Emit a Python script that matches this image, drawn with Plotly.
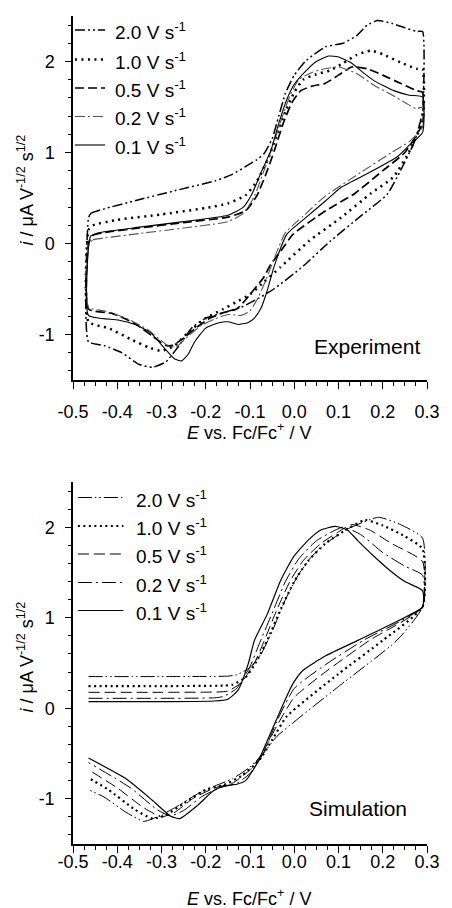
import plotly.graph_objects as go

# ---------------- data (E / V vs Fc/Fc+, i / uA V^-1/2 s^1/2) ----------------
rates = ["2.0", "1.0", "0.5", "0.2", "0.1"]

# Experiment
exp_E_20 = [-0.465,-0.46,-0.43,-0.36,-0.27,-0.178,-0.14,-0.112,-0.085,-0.068,-0.05,-0.035,-0.02,0.0,0.027,0.07,0.11,0.14,0.165,0.188,0.22,0.25,0.277,0.29,
            0.29,0.28,0.27,0.24,0.21,0.15,0.08,0.02,-0.046,-0.08,-0.12,-0.16,-0.2,-0.23,-0.26,-0.29,-0.32,-0.35,-0.39,-0.43,-0.465,-0.465]
exp_i_20 = [0.28,0.33,0.38,0.47,0.58,0.69,0.76,0.84,0.92,0.99,1.15,1.4,1.65,1.85,2.01,2.16,2.2,2.28,2.4,2.45,2.42,2.37,2.33,2.33,
            1.45,1.25,1.10,0.80,0.54,0.30,0.02,-0.25,-0.50,-0.60,-0.70,-0.76,-0.82,-0.92,-1.12,-1.30,-1.36,-1.33,-1.20,-1.12,-1.08,0.28]

exp_E_10 = [-0.465,-0.455,-0.4,-0.3,-0.2,-0.15,-0.11,-0.085,-0.06,-0.04,-0.02,0.0,0.02,0.05,0.08,0.11,0.14,0.173,0.2,0.24,0.276,0.29,
            0.29,0.261,0.224,0.173,0.107,0.034,-0.031,-0.068,-0.1,-0.13,-0.16,-0.2,-0.24,-0.27,-0.3,-0.33,-0.37,-0.42,-0.465,-0.465]
exp_i_10 = [0.15,0.2,0.26,0.32,0.39,0.44,0.53,0.68,0.92,1.18,1.45,1.66,1.8,1.86,1.9,1.98,2.07,2.12,2.08,1.99,1.92,1.92,
            1.35,1.02,0.73,0.55,0.29,0.03,-0.26,-0.42,-0.56,-0.64,-0.72,-0.82,-0.98,-1.12,-1.18,-1.14,-1.05,-0.93,-0.86,0.15]

exp_E_05 = [-0.465,-0.455,-0.43,-0.35,-0.25,-0.15,-0.11,-0.085,-0.065,-0.045,-0.025,-0.005,0.015,0.04,0.07,0.1,0.13,0.165,0.2,0.24,0.277,0.29,
            0.29,0.25,0.2,0.137,0.071,-0.003,-0.03,-0.053,-0.07,-0.09,-0.11,-0.13,-0.16,-0.19,-0.22,-0.25,-0.275,-0.29,-0.32,-0.36,-0.41,-0.465,-0.465]
exp_i_05 = [0.0,0.09,0.12,0.17,0.23,0.29,0.36,0.52,0.75,1.02,1.32,1.55,1.68,1.73,1.76,1.85,1.94,1.92,1.85,1.76,1.68,1.66,
            1.32,1.0,0.8,0.55,0.36,0.10,-0.08,-0.23,-0.38,-0.5,-0.62,-0.72,-0.76,-0.82,-0.92,-1.04,-1.12,-1.12,-1.02,-0.88,-0.77,-0.72,0.0]

exp_E_02 = [-0.465,-0.455,-0.43,-0.35,-0.25,-0.15,-0.115,-0.09,-0.07,-0.05,-0.03,-0.01,0.01,0.04,0.07,0.1,0.14,0.18,0.218,0.25,0.276,0.29,
            0.29,0.26,0.22,0.15,0.07,0.02,-0.02,-0.04,-0.06,-0.08,-0.1,-0.12,-0.15,-0.18,-0.21,-0.24,-0.265,-0.28,-0.3,-0.33,-0.38,-0.43,-0.465,-0.465]
exp_i_02 = [-0.02,0.04,0.06,0.11,0.17,0.24,0.33,0.52,0.78,1.05,1.35,1.62,1.80,1.88,1.92,1.94,1.87,1.74,1.64,1.55,1.48,1.5,
            1.28,1.12,1.0,0.78,0.52,0.3,0.12,-0.1,-0.35,-0.58,-0.74,-0.79,-0.78,-0.83,-0.9,-1.02,-1.13,-1.14,-1.07,-0.95,-0.82,-0.74,-0.7,-0.02]

exp_E_01 = [-0.465,-0.46,-0.44,-0.35,-0.25,-0.15,-0.115,-0.095,-0.075,-0.053,-0.035,-0.017,0.0,0.027,0.05,0.078,0.1,0.13,0.155,0.18,0.225,0.26,0.29,
            0.29,0.26,0.232,0.17,0.107,0.071,0.03,-0.017,-0.046,-0.06,-0.075,-0.09,-0.105,-0.127,-0.15,-0.17,-0.2,-0.225,-0.24,-0.255,-0.27,-0.29,-0.325,-0.36,-0.398,-0.465,-0.465]
exp_i_01 = [-0.05,0.08,0.12,0.18,0.24,0.31,0.40,0.55,0.78,1.02,1.32,1.58,1.75,1.90,2.0,2.06,2.05,1.98,1.88,1.79,1.68,1.63,1.61,
            1.22,1.08,0.95,0.78,0.62,0.47,0.3,0.10,-0.26,-0.5,-0.71,-0.82,-0.87,-0.89,-0.86,-0.87,-0.93,-1.08,-1.22,-1.29,-1.27,-1.17,-0.98,-0.89,-0.84,-0.79,-0.05]

# Simulation
sim_E_20 = [-0.465,-0.3,-0.15,-0.13,-0.1,-0.075,-0.05,-0.02,0.01,0.04,0.08,0.12,0.19,0.24,0.29,
            0.29,0.232,0.1,-0.039,-0.07,-0.1,-0.14,-0.18,-0.22,-0.27,-0.31,-0.34,-0.38,-0.43,-0.465]
sim_i_20 = [0.35,0.35,0.355,0.37,0.45,0.6,0.85,1.2,1.48,1.68,1.85,1.98,2.11,2.03,1.88,
            1.12,0.75,0.24,-0.31,-0.5,-0.65,-0.78,-0.86,-0.95,-1.1,-1.2,-1.25,-1.15,-0.98,-0.9]

sim_E_10 = [-0.465,-0.3,-0.16,-0.14,-0.11,-0.085,-0.06,-0.03,0.0,0.03,0.07,0.12,0.16,0.2,0.25,0.29,
            0.29,0.2,0.1,-0.017,-0.05,-0.08,-0.12,-0.16,-0.2,-0.25,-0.29,-0.32,-0.36,-0.42,-0.465]
sim_i_10 = [0.245,0.245,0.25,0.26,0.34,0.52,0.76,1.1,1.4,1.62,1.82,1.98,2.08,2.02,1.9,1.76,
            1.12,0.75,0.38,-0.09,-0.35,-0.58,-0.75,-0.85,-0.9,-1.05,-1.18,-1.22,-1.12,-0.9,-0.77]

sim_E_05 = [-0.465,-0.3,-0.17,-0.15,-0.12,-0.09,-0.07,-0.04,-0.01,0.02,0.06,0.1,0.13,0.17,0.22,0.29,
            0.29,0.17,0.07,0.0,-0.04,-0.07,-0.1,-0.14,-0.18,-0.23,-0.27,-0.30,-0.34,-0.4,-0.465]
sim_i_05 = [0.176,0.176,0.18,0.19,0.28,0.5,0.72,1.08,1.4,1.63,1.82,1.95,2.03,1.97,1.82,1.62,
            1.12,0.75,0.40,0.12,-0.2,-0.48,-0.68,-0.83,-0.88,-1.0,-1.15,-1.2,-1.1,-0.88,-0.68]

sim_E_02 = [-0.465,-0.3,-0.18,-0.16,-0.13,-0.1,-0.08,-0.05,-0.02,0.01,0.05,0.11,0.15,0.2,0.25,0.29,
            0.29,0.156,0.07,0.0,-0.04,-0.07,-0.1,-0.13,-0.17,-0.21,-0.25,-0.28,-0.31,-0.37,-0.465]
sim_i_02 = [0.11,0.11,0.115,0.13,0.22,0.46,0.7,1.05,1.4,1.65,1.85,2.0,1.92,1.72,1.57,1.47,
            1.12,0.75,0.48,0.22,-0.15,-0.5,-0.72,-0.83,-0.88,-0.98,-1.13,-1.19,-1.12,-0.88,-0.6]

sim_E_01 = [-0.465,-0.3,-0.18,-0.15,-0.127,-0.104,-0.09,-0.061,-0.031,-0.002,0.03,0.06,0.093,0.12,0.144,0.18,0.217,0.25,0.29,
            0.29,0.22,0.144,0.071,0.02,-0.002,-0.02,-0.053,-0.083,-0.11,-0.13,-0.16,-0.185,-0.22,-0.259,-0.28,-0.32,-0.38,-0.465]
sim_i_01 = [0.073,0.073,0.08,0.1,0.2,0.49,0.75,1.04,1.41,1.67,1.85,1.97,2.01,1.97,1.85,1.68,1.52,1.4,1.3,
            1.12,0.93,0.75,0.58,0.42,0.28,0.1,-0.27,-0.6,-0.8,-0.84,-0.86,-0.92,-1.08,-1.22,-1.19,-1.02,-0.78,-0.55]

x_tickvals = [-0.5, -0.4, -0.3, -0.2, -0.1, 0.0, 0.1, 0.2, 0.3]
x_ticktext = ["-0.5", "-0.4", "-0.3", "-0.2", "-0.1", "0.0", "0.1", "0.2", "0.3"]
y_tickvals = [-1, 0, 1, 2]
y_ticktext = ["-1", "0", "1", "2"]

# ---------------- styles ----------------
FONT = "Liberation Sans, Arial, sans-serif"
exp_styles = {
    "2.0": dict(color="black", width=1.5, dash="10px,3px,2px,3px,2px,3px"),
    "1.0": dict(color="black", width=2.5, dash="2px,4.5px"),
    "0.5": dict(color="black", width=1.7, dash="9px,4px"),
    "0.2": dict(color="#555555", width=1.1, dash="10px,3px,2px,3px"),
    "0.1": dict(color="black", width=1.1, dash="solid"),
}
sim_styles = {
    "2.0": dict(color="black", width=1.0, dash="14px,3px,1.5px,3px,1.5px,3px"),
    "1.0": dict(color="black", width=2.2, dash="2px,3.5px"),
    "0.5": dict(color="black", width=1.0, dash="11px,5px"),
    "0.2": dict(color="black", width=1.0, dash="14px,4px,2px,4px"),
    "0.1": dict(color="black", width=1.2, dash="solid"),
}

exp_data = {"2.0": (exp_E_20, exp_i_20), "1.0": (exp_E_10, exp_i_10), "0.5": (exp_E_05, exp_i_05),
            "0.2": (exp_E_02, exp_i_02), "0.1": (exp_E_01, exp_i_01)}
sim_data = {"2.0": (sim_E_20, sim_i_20), "1.0": (sim_E_10, sim_i_10), "0.5": (sim_E_05, sim_i_05),
            "0.2": (sim_E_02, sim_i_02), "0.1": (sim_E_01, sim_i_01)}

fig = go.Figure()
for r in rates:
    E, i = exp_data[r]
    fig.add_trace(go.Scatter(x=E, y=i, mode="lines", line=dict(**exp_styles[r], shape="spline", smoothing=0.5),
                             xaxis="x", yaxis="y", showlegend=False, name=r))
for r in rates:
    E, i = sim_data[r]
    fig.add_trace(go.Scatter(x=E, y=i, mode="lines", line=dict(**sim_styles[r], shape="spline", smoothing=0.5),
                             xaxis="x2", yaxis="y2", showlegend=False, name=r))

W, H = 452, 908
L, R, T, B = 73, 14, 16, 64
PW, PH = W - L - R, H - T - B
def fx(p):
    return (p - L) / PW
def fy(p):
    return (H - B - p) / PH

top_dom = [fy(380), 1.0]
bot_dom = [0.0, fy(482)]

def xaxis(anchor, standoff):
    return dict(range=[-0.5, 0.3], anchor=anchor, showline=True, linecolor="black", linewidth=1.5,
                showgrid=False, zeroline=False, ticks="outside", ticklen=7, tickwidth=1.2, tickcolor="black",
                tickmode="array", tickvals=x_tickvals, ticktext=x_ticktext, ticklabelstandoff=standoff,
                tickfont=dict(family=FONT, size=18, color="black"),
                minor=dict(tickmode="linear", tick0=-0.5, dtick=0.025, ticks="outside", ticklen=4,
                           tickwidth=1, tickcolor="black", showgrid=False))

def yaxis(anchor, dom):
    return dict(range=[-1.5, 2.5], domain=dom, anchor=anchor, showline=True, linecolor="black", linewidth=1.5,
                showgrid=False, zeroline=False, ticks="outside", ticklen=6, tickwidth=1.2, tickcolor="black",
                tickmode="array", tickvals=y_tickvals, ticktext=y_ticktext, ticklabelstandoff=7,
                tickfont=dict(family=FONT, size=18, color="black"),
                minor=dict(tickmode="linear", tick0=-1.4, dtick=0.2, ticks="outside", ticklen=3,
                           tickwidth=1, tickcolor="black", showgrid=False))

annotations = []
shapes = []
ytitle = "<i>i</i> / μA V<sup>-1/2</sup> s<sup>1/2</sup>"
xtitle = "<i>E</i> vs. Fc/Fc<sup>+</sup> / V"
tfont = dict(family=FONT, size=18, color="black")
annotations.append(dict(text=ytitle, x=fx(24), y=fy(190), xref="paper", yref="paper", textangle=-90,
                        showarrow=False, xanchor="center", yanchor="middle", font=tfont))
annotations.append(dict(text=ytitle, x=fx(24), y=fy(657), xref="paper", yref="paper", textangle=-90,
                        showarrow=False, xanchor="center", yanchor="middle", font=tfont))
annotations.append(dict(text=xtitle, x=fx(254), y=fy(431), xref="paper", yref="paper", showarrow=False,
                        xanchor="center", yanchor="middle", font=tfont))
annotations.append(dict(text=xtitle, x=fx(254), y=fy(897), xref="paper", yref="paper", showarrow=False,
                        xanchor="center", yanchor="middle", font=tfont))
annotations.append(dict(text="Experiment", x=fx(433), y=fy(346), xref="paper", yref="paper", showarrow=False,
                        xanchor="right", yanchor="middle", font=dict(family=FONT, size=21, color="black")))
annotations.append(dict(text="Simulation", x=fx(419), y=fy(808), xref="paper", yref="paper", showarrow=False,
                        xanchor="right", yanchor="middle", font=dict(family=FONT, size=21, color="black")))

# manual legends
lfont = dict(family=FONT, size=19, color="black")
top_rows = [30, 59.5, 88, 116.5, 145]
bot_rows = [497.5, 526, 554, 582.5, 610.5]
for k, r in enumerate(rates):
    yy = top_rows[k]
    st = exp_styles[r]
    shapes.append(dict(type="line", xref="paper", yref="paper", x0=fx(75), x1=fx(106), y0=fy(yy), y1=fy(yy),
                       line=dict(color=st["color"], width=st["width"], dash=st["dash"])))
    annotations.append(dict(text=f"{r} V s<sup>-1</sup>", x=fx(114), y=fy(yy + 1), xref="paper", yref="paper",
                            showarrow=False, xanchor="left", yanchor="middle", font=lfont))
    yy = bot_rows[k]
    st = sim_styles[r]
    shapes.append(dict(type="line", xref="paper", yref="paper", x0=fx(78), x1=fx(125), y0=fy(yy), y1=fy(yy),
                       line=dict(color=st["color"], width=st["width"], dash=st["dash"])))
    annotations.append(dict(text=f"{r} V s<sup>-1</sup>", x=fx(136), y=fy(yy + 1), xref="paper", yref="paper",
                            showarrow=False, xanchor="left", yanchor="middle", font=lfont))

fig.update_layout(
    width=W, height=H, margin=dict(l=L, r=R, t=T, b=B, pad=0),
    paper_bgcolor="white", plot_bgcolor="white",
    xaxis=xaxis("y", 8), yaxis=yaxis("x", top_dom),
    xaxis2=xaxis("y2", -6), yaxis2=yaxis("x2", bot_dom),
    annotations=annotations, shapes=shapes, showlegend=False,
    font=dict(family=FONT, color="black"),
)

fig.write_html("out.html")
